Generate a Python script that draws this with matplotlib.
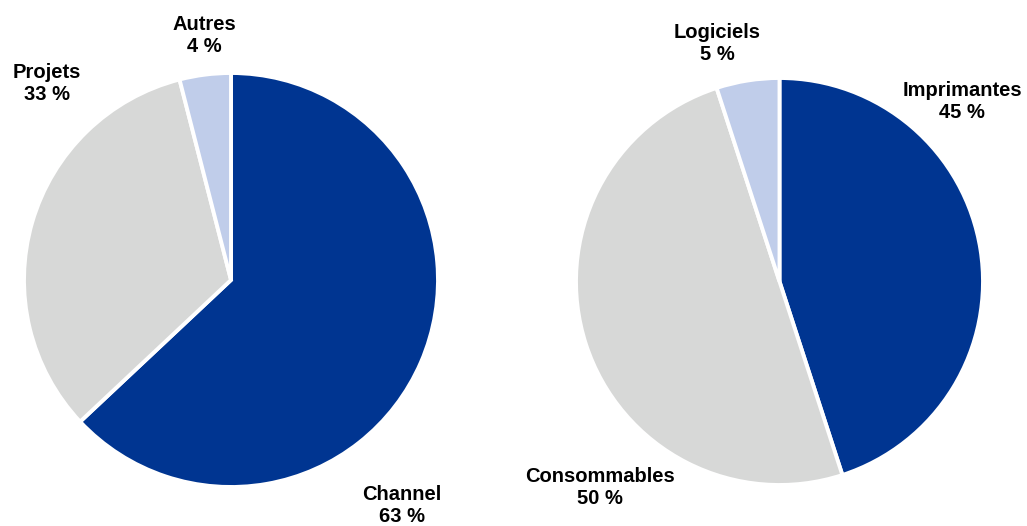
import matplotlib.pyplot as plt

# Données
gauche_labels = ["Channel", "Projets", "Autres"]
gauche_valeurs = [63, 33, 4]

droite_labels = ["Imprimantes", "Consommables", "Logiciels"]
droite_valeurs = [45, 50, 5]

couleurs = ["#003591", "#D7D8D7", "#C0CDEA"]

plt.rcParams['font.family'] = ['Liberation Sans', 'DejaVu Sans']

W, H = 1027, 526
fig = plt.figure(figsize=(W / 100, H / 100), dpi=100)


def axe_camembert(cx, cy, r):
    # cx, cy, r en pixels (origine en haut à gauche)
    ax = fig.add_axes([(cx - r) / W, (H - cy - r) / H, 2 * r / W, 2 * r / H])
    ax.set_aspect('equal')
    ax.axis('off')
    return ax, cx, cy, r


def etiquette(ax, cx, cy, r, px, py, texte):
    x = (px - cx) / r
    y = (cy - py) / r
    ax.text(x, y, texte, ha='center', va='center', fontsize=14.5,
            fontweight='bold', linespacing=1.2, clip_on=False)


# Camembert de gauche
ax1, cx1, cy1, r1 = axe_camembert(231, 280, 207)
ax1.pie(gauche_valeurs, colors=couleurs, startangle=90, counterclock=False,
        radius=1, wedgeprops=dict(edgecolor='white', linewidth=2.8))
ax1.set_xlim(-1, 1)
ax1.set_ylim(-1, 1)
positions_g = [(402, 505), (47, 83), (204, 36)]
for (px, py), lab, val in zip(positions_g, gauche_labels, gauche_valeurs):
    etiquette(ax1, cx1, cy1, r1, px, py, f"{lab}\n{val} %")

# Camembert de droite
ax2, cx2, cy2, r2 = axe_camembert(779.5, 281.5, 203.5)
ax2.pie(droite_valeurs, colors=couleurs, startangle=90, counterclock=False,
        radius=1, wedgeprops=dict(edgecolor='white', linewidth=2.8))
ax2.set_xlim(-1, 1)
ax2.set_ylim(-1, 1)
positions_d = [(962, 101), (600, 488), (717, 43)]
for (px, py), lab, val in zip(positions_d, droite_labels, droite_valeurs):
    etiquette(ax2, cx2, cy2, r2, px, py, f"{lab}\n{val} %")

fig.savefig("out.png", dpi=100)
